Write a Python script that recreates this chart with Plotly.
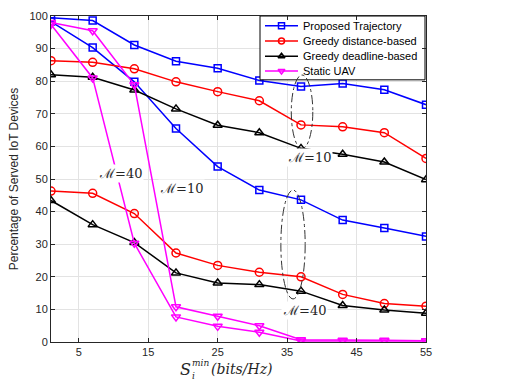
import plotly.graph_objects as go

x_vals = [1, 7, 13, 19, 25, 31, 37, 43, 49, 55]

proposed_m10 = [99.5, 98.6, 91.1, 86.1, 84.0, 80.2, 78.4, 79.3, 77.4, 72.8]
proposed_m40 = [98.3, 90.3, 79.8, 65.5, 53.8, 46.6, 43.6, 37.4, 35.0, 32.4]
distance_m10 = [86.3, 85.8, 83.8, 79.8, 76.8, 74.0, 66.6, 66.0, 64.2, 56.3]
distance_m40 = [46.3, 45.6, 39.4, 27.3, 23.5, 21.4, 20.0, 14.6, 11.8, 11.0]
deadline_m10 = [82.0, 81.2, 77.3, 71.5, 66.5, 64.2, 59.4, 57.6, 55.2, 49.8]
deadline_m40 = [43.4, 36.0, 30.5, 21.2, 18.1, 17.6, 15.6, 11.2, 9.8, 8.8]
static_m10 = [98.0, 95.5, 78.9, 10.8, 7.9, 5.0, 0.7, 0.5, 0.5, 0.4]
static_m40 = [97.4, 81.0, 30.3, 7.7, 4.8, 3.0, 0.3, 0.3, 0.3, 0.3]

legend_names = ["Proposed Trajectory", "Greedy distance-based",
                "Greedy deadline-based", "Static UAV"]
colors = ["#0000ff", "#ff0000", "#000000", "#ff00ff"]
symbols = ["square-open", "circle-open", "triangle-up-open", "triangle-down-open"]
marker_sizes = [7, 8, 8, 8]
m10_series = [proposed_m10, distance_m10, deadline_m10, static_m10]
m40_series = [proposed_m40, distance_m40, deadline_m40, static_m40]

fig = go.Figure()
for name, a, b, col, sym, sz in zip(legend_names, m10_series, m40_series, colors, symbols, marker_sizes):
    for ys in (a, b):
        fig.add_trace(go.Scatter(
            x=x_vals, y=ys, mode="lines+markers", name=name, showlegend=False,
            line=dict(color=col, width=1.5),
            marker=dict(symbol=sym, size=sz, color=col, line=dict(color=col, width=1.5)),
        ))

serif = "DejaVu Serif, Liberation Serif, serif"
sans = "Liberation Sans, Arial, sans-serif"

labels = [
    ("ℳ=40", 11.0, 51.8),
    ("ℳ=10", 19.8, 47.0),
    ("ℳ=10", 38.2, 56.5),
    ("ℳ=40", 37.5, 9.6),
]
for txt, lx, ly in labels:
    fig.add_annotation(x=lx, y=ly, xref="x", yref="y", text=txt, showarrow=False,
                       font=dict(family=serif, size=13, color="#262626"),
                       bgcolor="white", borderpad=1)

fig.add_shape(type="circle", xref="x", yref="y", x0=35.6, x1=38.7, y0=59.3, y1=81.9,
              line=dict(color="#333333", width=1, dash="dashdot"))
fig.add_shape(type="circle", xref="x", yref="y", x0=34.1, x1=37.6, y0=13.2, y1=46.6,
              line=dict(color="#333333", width=1, dash="dashdot"))

# ---- legend box drawn on an overlay axis measured in page pixels ----
L_left, L_right, L_top, L_bot = 260, 425, 10, 75
row_y = [20, 35.5, 51, 66]
fig.add_trace(go.Scatter(
    x=[L_left, L_right, L_right, L_left, L_left], y=[L_top, L_top, L_bot, L_bot, L_top],
    xaxis="x2", yaxis="y2", mode="lines", fill="toself", fillcolor="white",
    line=dict(color="#000000", width=1), showlegend=False, hoverinfo="skip"))
for name, col, sym, ry in zip(legend_names, colors, symbols, row_y):
    fig.add_trace(go.Scatter(
        x=[265, 298], y=[ry, ry], xaxis="x2", yaxis="y2", mode="lines",
        line=dict(color=col, width=1.5), showlegend=False, hoverinfo="skip"))
    fig.add_trace(go.Scatter(
        x=[281.5], y=[ry], xaxis="x2", yaxis="y2", mode="markers",
        marker=dict(symbol=sym, size=6, color=col, line=dict(color=col, width=1.5)),
        showlegend=False, hoverinfo="skip"))
    fig.add_annotation(x=301, y=ry, xref="x2", yref="y2", text=name, showarrow=False,
                       xanchor="left", yanchor="middle",
                       font=dict(family=sans, size=11, color="#000000"))

# ---- x-axis title, pieces stacked like LaTeX (paper coordinates) ----
def px_to_paper_x(px):
    return (px - 51) / 375.0

def px_to_paper_y(py):
    return (342 - py) / 332.0

title_parts = [
    ("<i>S</i>", 180, 370, 16),
    ("<i>min</i>", 192, 363.5, 9),
    ("<i>i</i>", 192, 376.5, 9),
    ("<i>(bits/Hz)</i>", 211, 370, 14),
]
for txt, px, py, fs in title_parts:
    fig.add_annotation(x=px_to_paper_x(px), y=px_to_paper_y(py), xref="paper", yref="paper",
                       text=txt, showarrow=False, xanchor="left", yanchor="middle",
                       borderpad=0, borderwidth=0,
                       font=dict(family=serif, size=fs, color="#262626"))

axis_common = dict(
    showline=True, linecolor="#262626", linewidth=1, mirror="allticks",
    ticks="inside", ticklen=4, tickcolor="#262626",
    showgrid=True, gridcolor="#e3e3e3", gridwidth=1,
    zeroline=False,
    tickfont=dict(family=sans, size=11, color="#262626"),
)

fig.update_layout(
    width=522, height=383,
    margin=dict(l=51, r=96, t=10, b=41),
    plot_bgcolor="white", paper_bgcolor="white",
    showlegend=False,
    xaxis=dict(range=[1, 55], tickvals=[5, 15, 25, 35, 45, 55], **axis_common),
    yaxis=dict(range=[0, 100], tickvals=list(range(0, 101, 10)), **axis_common,
               title=dict(text="Percentage of Served IoT Devices",
                          font=dict(family=sans, size=12, color="#262626"), standoff=8)),
    xaxis2=dict(range=[51, 426], overlaying="x", anchor="y2", visible=False,
                showgrid=False, zeroline=False, fixedrange=True),
    yaxis2=dict(range=[342, 10], overlaying="y", anchor="x2", visible=False,
                showgrid=False, zeroline=False, fixedrange=True),
)

fig.write_html("out.html")
